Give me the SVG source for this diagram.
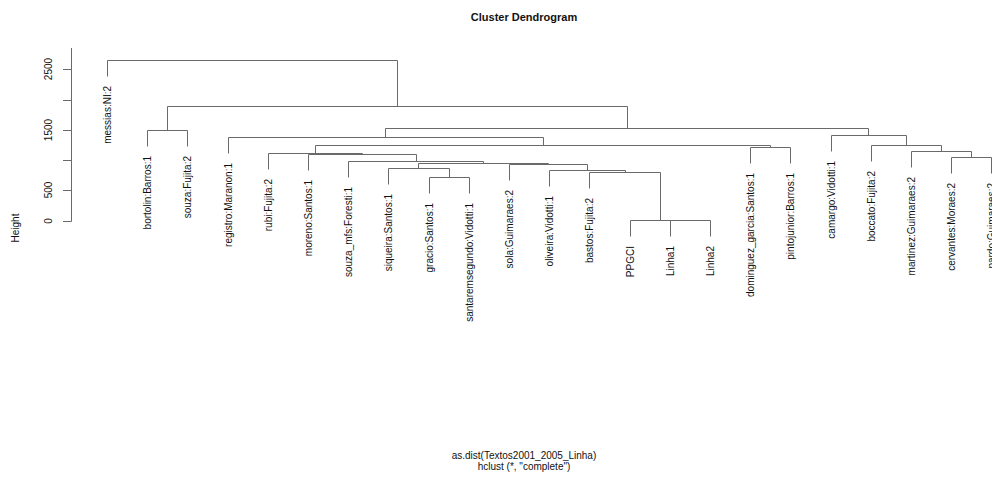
<svg xmlns="http://www.w3.org/2000/svg" width="992" height="481" viewBox="0 0 992 481">
<style>
  .bg{fill:#ffffff}
  .edge{fill:none;stroke:#6a6a6a;stroke-width:1}
  .axis{fill:none;stroke:#6a6a6a;stroke-width:1}
  .lbl{font-family:"Liberation Sans",Arial,sans-serif;font-size:10px;fill:#111;text-anchor:end;dominant-baseline:central}
  .tick{font-family:"Liberation Sans",Arial,sans-serif;font-size:10px;fill:#111;text-anchor:middle;dominant-baseline:central}
  .title{font-family:"Liberation Sans",Arial,sans-serif;font-size:11px;font-weight:bold;fill:#111;text-anchor:middle}
  .sub{font-family:"Liberation Sans",Arial,sans-serif;font-size:10px;fill:#111;text-anchor:middle}
</style>
<rect class="bg" x="0" y="0" width="992" height="481"/>
<text class="title" x="524" y="21">Cluster Dendrogram</text>
<g id="axis">
  <path class="axis" d="M71.5,48 V221.5 M63,221.5 H71.5 M63,190.5 H71.5 M63,160.5 H71.5 M63,130.5 H71.5 M63,100.5 H71.5 M63,69.5 H71.5"/>
  <text class="tick" transform="translate(48,221) rotate(-90)">0</text>
  <text class="tick" transform="translate(48,190) rotate(-90)">500</text>
  <text class="tick" transform="translate(48,130) rotate(-90)">1500</text>
  <text class="tick" transform="translate(48,69) rotate(-90)">2500</text>
  <text class="tick" transform="translate(15,228) rotate(-90)">Height</text>
</g>
<g id="connectors" transform="translate(0.5,0.5)">
  <path class="edge" d="M107,76 V60 H397 V106"/>
  <path class="edge" d="M167,130 V106 H627 V128"/>
  <path class="edge" d="M147,146 V130 H187 V146"/>
  <path class="edge" d="M385,137 V128 H868 V135"/>
  <path class="edge" d="M228,153 V137 H543 V145"/>
  <path class="edge" d="M315,153 V145 H770 V147"/>
  <path class="edge" d="M268,169 V153 H362 V154"/>
  <path class="edge" d="M308,170 V154 H416 V161"/>
  <path class="edge" d="M348,177 V161 H483 V163"/>
  <path class="edge" d="M418,168 V163 H548 V164"/>
  <path class="edge" d="M388,184 V168 H449 V177"/>
  <path class="edge" d="M429,193 V177 H469 V193"/>
  <path class="edge" d="M509,180 V164 H587 V170"/>
  <path class="edge" d="M549,186 V170 H625 V172"/>
  <path class="edge" d="M589,188 V172 H660 V220"/>
  <path class="edge" d="M630,236 V220 H690"/>
  <path class="edge" d="M670,236 V220 H710 V236"/>
  <path class="edge" d="M750,163 V147 H790 V163"/>
  <path class="edge" d="M831,151 V135 H906 V145"/>
  <path class="edge" d="M871,161 V145 H941 V151"/>
  <path class="edge" d="M911,167 V151 H971 V157"/>
  <path class="edge" d="M951,173 V157 H991 V173"/>
</g>
<g id="leaf-messias"><text class="lbl" transform="translate(107,86) rotate(-90)">messias:NI:2</text></g>
<g id="leaf-bortolin"><text class="lbl" transform="translate(147,156) rotate(-90)">bortolin:Barros:1</text></g>
<g id="leaf-souza"><text class="lbl" transform="translate(187,156) rotate(-90)">souza:Fujita:2</text></g>
<g id="leaf-registro"><text class="lbl" transform="translate(228,163) rotate(-90)">registro:Maranon:1</text></g>
<g id="leaf-rubi"><text class="lbl" transform="translate(268,179) rotate(-90)">rubi:Fujita:2</text></g>
<g id="leaf-moreno"><text class="lbl" transform="translate(308,180) rotate(-90)">moreno:Santos:1</text></g>
<g id="leaf-souza_mfs"><text class="lbl" transform="translate(348,187) rotate(-90)">souza_mfs:Foresti:1</text></g>
<g id="leaf-siqueira"><text class="lbl" transform="translate(388,194) rotate(-90)">siqueira:Santos:1</text></g>
<g id="leaf-gracio"><text class="lbl" transform="translate(429,203) rotate(-90)">gracio:Santos:1</text></g>
<g id="leaf-santaremsegundo"><text class="lbl" transform="translate(469,203) rotate(-90)">santaremsegundo:Vidotti:1</text></g>
<g id="leaf-sola"><text class="lbl" transform="translate(509,190) rotate(-90)">sola:Guimaraes:2</text></g>
<g id="leaf-oliveira"><text class="lbl" transform="translate(549,196) rotate(-90)">oliveira:Vidotti:1</text></g>
<g id="leaf-bastos"><text class="lbl" transform="translate(589,198) rotate(-90)">bastos:Fujita:2</text></g>
<g id="leaf-PPGCI"><text class="lbl" transform="translate(630,246) rotate(-90)">PPGCI</text></g>
<g id="leaf-Linha1"><text class="lbl" transform="translate(670,246) rotate(-90)">Linha1</text></g>
<g id="leaf-Linha2"><text class="lbl" transform="translate(710,246) rotate(-90)">Linha2</text></g>
<g id="leaf-dominguez_garcia"><text class="lbl" transform="translate(750,173) rotate(-90)">dominguez_garcia:Santos:1</text></g>
<g id="leaf-pintojunior"><text class="lbl" transform="translate(790,173) rotate(-90)">pintojunior:Barros:1</text></g>
<g id="leaf-camargo"><text class="lbl" transform="translate(831,161) rotate(-90)">camargo:Vidotti:1</text></g>
<g id="leaf-boccato"><text class="lbl" transform="translate(871,171) rotate(-90)">boccato:Fujita:2</text></g>
<g id="leaf-martinez"><text class="lbl" transform="translate(911,177) rotate(-90)">martinez:Guimaraes:2</text></g>
<g id="leaf-cervantes"><text class="lbl" transform="translate(951,183) rotate(-90)">cervantes:Moraes:2</text></g>
<g id="leaf-pardo"><text class="lbl" transform="translate(991,183) rotate(-90)">pardo:Guimaraes:2</text></g>
<text class="sub" x="524" y="459">as.dist(Textos2001_2005_Linha)</text>
<text class="sub" x="524" y="470">hclust (*, "complete")</text>
</svg>
